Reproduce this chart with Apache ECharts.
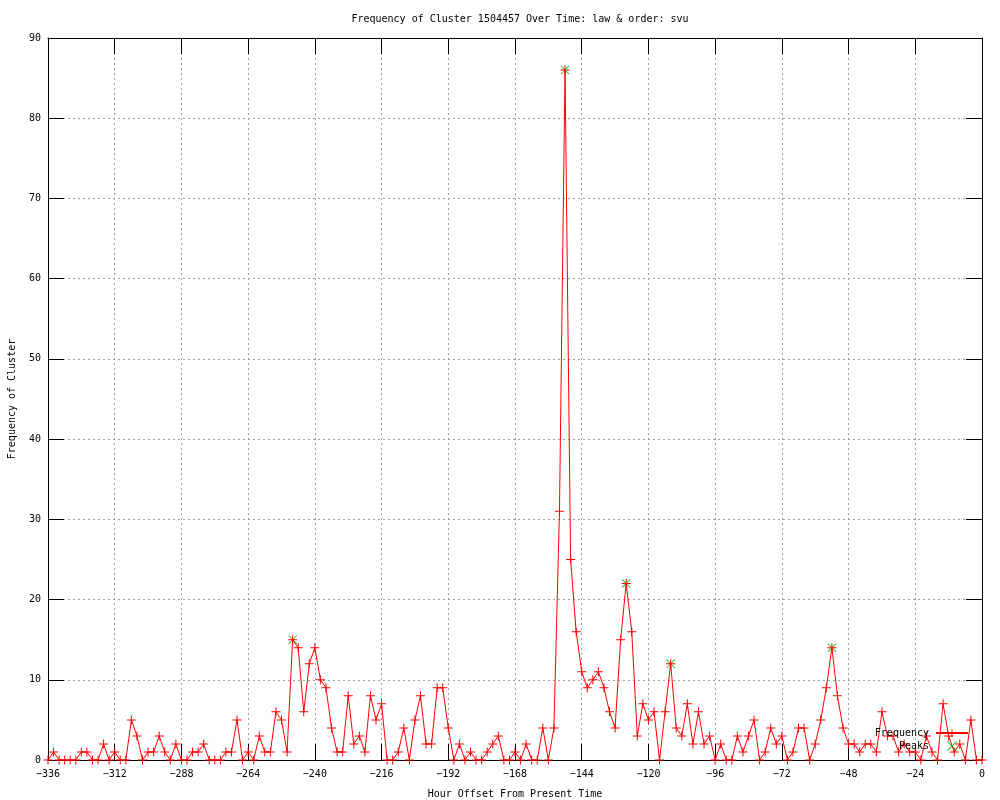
<!DOCTYPE html>
<html>
<head>
<meta charset="utf-8">
<script src="https://cdn.jsdelivr.net/npm/echarts@6/dist/echarts.min.js"></script>
<style>html,body{margin:0;padding:0;background:#fff;}#c{width:1000px;height:800px;}</style>
</head>
<body>
<div id="c"></div>
<script>
const titleText = 'Frequency of Cluster 1504457 Over Time: law & order: svu';
const xName = 'Hour Offset From Present Time';
const yName = 'Frequency of Cluster';
const hours = [-336,-334,-332,-330,-328,-326,-324,-322,-320,-318,-316,-314,-312,-310,-308,-306,-304,-302,-300,-298,-296,-294,-292,-290,-288,-286,-284,-282,-280,-278,-276,-274,-272,-270,-268,-266,-264,-262,-260,-258,-256,-254,-252,-250,-248,-246,-244,-242,-240,-238,-236,-234,-232,-230,-228,-226,-224,-222,-220,-218,-216,-214,-212,-210,-208,-206,-204,-202,-200,-198,-196,-194,-192,-190,-188,-186,-184,-182,-180,-178,-176,-174,-172,-170,-168,-166,-164,-162,-160,-158,-156,-154,-152,-150,-148,-146,-144,-142,-140,-138,-136,-134,-132,-130,-128,-126,-124,-122,-120,-118,-116,-114,-112,-110,-108,-106,-104,-102,-100,-98,-96,-94,-92,-90,-88,-86,-84,-82,-80,-78,-76,-74,-72,-70,-68,-66,-64,-62,-60,-58,-56,-54,-52,-50,-48,-46,-44,-42,-40,-38,-36,-34,-32,-30,-28,-26,-24,-22,-20,-18,-16,-14,-12,-10,-8,-6,-4,-2,0];
const frequency = [0,1,0,0,0,0,1,1,0,0,2,0,1,0,0,5,3,0,1,1,3,1,0,2,0,0,1,1,2,0,0,0,1,1,5,0,1,0,3,1,1,6,5,1,15,14,6,12,14,10,9,4,1,1,8,2,3,1,8,5,7,0,0,1,4,0,5,8,2,2,9,9,4,0,2,0,1,0,0,1,2,3,0,0,1,0,2,0,0,4,0,4,31,86,25,16,11,9,10,11,9,6,4,15,22,16,3,7,5,6,0,6,12,4,3,7,2,6,2,3,0,2,0,0,3,1,3,5,0,1,4,2,3,0,1,4,4,0,2,5,9,14,8,4,2,2,1,2,2,1,6,3,3,1,2,1,1,0,3,1,0,7,3,1,2,0,5,0,0];
const peakHours = [-248,-150,-128,-112,-54];
const peakValues = [15,86,22,12,14];

const FONT = 'DejaVu Sans Mono';
const plusPath = 'path://M0,4L9,4L9,5L0,5Z M4,0L5,0L5,9L4,9Z';
const xPath = 'path://M0,0.7L0.7,0L9,8.3L8.3,9Z M8.3,0L9,0.7L0.7,9L0,8.3Z';
const fmt = v => v < 0 ? '\u2212' + Math.abs(v) : String(v);

const chart = echarts.init(document.getElementById('c'), null, {renderer: 'canvas'});
const gridLine = {show: true, lineStyle: {color: '#a0a0a0', type: [2, 3], width: 1}};
const tick = {show: true, inside: true, length: 16, lineStyle: {color: '#000', width: 1}};
const line = {show: true, onZero: false, lineStyle: {color: '#000', width: 1}};
chart.setOption({
  animation: false,
  backgroundColor: '#fff',
  title: {text: titleText, left: 515, top: 9, textAlign: 'center',
    textStyle: {fontFamily: FONT, fontSize: 10, fontWeight: 'normal', color: '#000'}},
  legend: {
    data: ['Frequency', 'Peaks'], right: 31, top: 728, orient: 'vertical', align: 'right',
    itemWidth: 32, itemHeight: 10, itemGap: 3, padding: 0,
    textStyle: {fontFamily: FONT, fontSize: 10, color: '#000', padding: [0, 2, 0, 0]}
  },
  grid: {left: 48, right: 18, top: 38, bottom: 40, show: false,
    containLabel: false, outerBoundsMode: 'none'},
  xAxis: [{
    type: 'value', min: -336, max: 0, interval: 24, position: 'bottom',
    name: xName, nameLocation: 'middle', nameGap: 29,
    nameTextStyle: {fontFamily: FONT, fontSize: 10, color: '#000'},
    axisLine: line,
    axisTick: tick,
    axisLabel: {fontFamily: FONT, fontSize: 10, color: '#000', margin: 9, formatter: fmt},
    splitLine: gridLine
  }, {
    type: 'value', position: 'top', min: -336, max: 0, interval: 24,
    axisLine: line, axisTick: tick,
    axisLabel: {show: false}, splitLine: {show: false}
  }],
  yAxis: [{
    type: 'value', min: 0, max: 90, interval: 10, position: 'left',
    name: yName, nameLocation: 'middle', nameGap: 31, nameRotate: 90,
    nameTextStyle: {fontFamily: FONT, fontSize: 10, color: '#000'},
    axisLine: line,
    axisTick: tick,
    axisLabel: {fontFamily: FONT, fontSize: 10, color: '#000', margin: 7},
    splitLine: gridLine
  }, {
    type: 'value', position: 'right', min: 0, max: 90, interval: 10,
    axisLine: line, axisTick: tick,
    axisLabel: {show: false}, splitLine: {show: false}
  }],
  series: [{
    name: 'Peaks', type: 'scatter', xAxisIndex: 0, yAxisIndex: 0,
    symbol: xPath, symbolSize: 9, itemStyle: {color: '#00b000'}, z: 2,
    data: peakHours.map((h, i) => [h, peakValues[i]])
  }, {
    name: 'Frequency', type: 'line', xAxisIndex: 0, yAxisIndex: 0,
    symbol: plusPath, symbolSize: 9, showAllSymbol: true,
    itemStyle: {color: '#ff0000'}, lineStyle: {color: '#ff0000', width: 1}, z: 3,
    data: hours.map((h, i) => [h, frequency[i]])
  }]
});
</script>
</body>
</html>
